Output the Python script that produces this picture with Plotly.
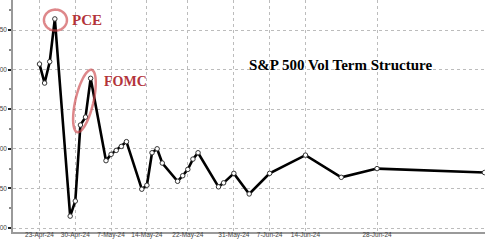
import plotly.graph_objects as go
import numpy as np

# ---- data ----
dates = ["2024-04-23", "2024-04-24", "2024-04-25", "2024-04-26", "2024-04-29",
         "2024-04-30", "2024-05-01", "2024-05-02", "2024-05-03", "2024-05-06",
         "2024-05-07", "2024-05-08", "2024-05-09", "2024-05-10", "2024-05-13",
         "2024-05-14", "2024-05-15", "2024-05-16", "2024-05-17", "2024-05-20",
         "2024-05-21", "2024-05-22", "2024-05-23", "2024-05-24", "2024-05-28",
         "2024-05-29", "2024-05-31", "2024-06-03", "2024-06-07", "2024-06-14",
         "2024-06-21", "2024-06-28", "2024-07-19"]
vol = [15.07, 14.83, 15.10, 15.64, 13.15,
       13.34, 14.30, 14.40, 14.89, 13.85,
       13.93, 13.98, 14.03, 14.09, 13.49,
       13.54, 13.95, 14.00, 13.82, 13.59,
       13.66, 13.74, 13.87, 13.95, 13.52,
       13.57, 13.69, 13.43, 13.69, 13.92,
       13.64, 13.75, 13.70]

tick_dates = ["2024-04-23", "2024-04-30", "2024-05-07", "2024-05-14", "2024-05-22",
              "2024-05-31", "2024-06-07", "2024-06-14", "2024-06-28"]
tick_labels = ["23-Apr-24", "30-Apr-24", "7-May-24", "14-May-24", "22-May-24",
               "31-May-24", "7-Jun-24", "14-Jun-24", "28-Jun-24"]
y_ticks = [13.0, 13.5, 14.0, 14.5, 15.0, 15.5]

title_text = "S&P 500 Vol Term Structure"
pce_label = "PCE"
fomc_label = "FOMC"
pce_idx = 3
fomc_idx = 8

RED = "#b3343a"
RING = "rgba(205,70,75,0.65)"
X_RANGE = ["2024-04-17 19:40", "2024-07-19 02:30"]
TICKFONT = dict(family="Liberation Sans", size=6.5, color="#444")

fig = go.Figure()
fig.add_trace(go.Scatter(
    x=dates, y=vol, mode="lines+markers",
    line=dict(color="black", width=2.6),
    marker=dict(size=4.5, color="white", line=dict(color="#333", width=1)),
    cliponaxis=False, showlegend=False,
))
# invisible companion trace so the label-only x axis is drawn
fig.add_trace(go.Scatter(
    x=dates, y=vol, xaxis="x2", mode="markers",
    marker=dict(opacity=0), hoverinfo="skip", showlegend=False,
))

# ellipse path (pixel units relative to anchor point)
def ellipse_path(cx, cy, a, b, ang_deg, n=60):
    t = np.linspace(0, 2 * np.pi, n)
    th = np.deg2rad(ang_deg)
    xs = cx + a * np.cos(t) * np.cos(th) - b * np.sin(t) * np.sin(th)
    ys = cy + a * np.cos(t) * np.sin(th) + b * np.sin(t) * np.cos(th)
    p = "M %.2f %.2f " % (xs[0], ys[0])
    p += " ".join("L %.2f %.2f" % (x, y) for x, y in zip(xs[1:], ys[1:]))
    return p + " Z"

shapes = [
    dict(type="path", xref="x", yref="y", xsizemode="pixel", ysizemode="pixel",
         xanchor=dates[pce_idx], yanchor=vol[pce_idx],
         path=ellipse_path(0.6, -1.2, 11.5, 10.5, 0),
         line=dict(color=RING, width=2.5)),
    dict(type="path", xref="x", yref="y", xsizemode="pixel", ysizemode="pixel",
         xanchor=dates[fomc_idx], yanchor=vol[fomc_idx],
         path=ellipse_path(-6.2, -22.7, 32, 9, 77),
         line=dict(color=RING, width=2.5)),
]

annotations = [
    dict(x=dates[pce_idx], y=vol[pce_idx], xref="x", yref="y", text="<b>%s</b>" % pce_label,
         showarrow=False, xshift=32, yshift=-1.5,
         font=dict(family="Liberation Serif", size=15, color=RED)),
    dict(x=dates[fomc_idx], y=vol[fomc_idx], xref="x", yref="y", text="<b>%s</b>" % fomc_label,
         showarrow=False, xshift=35, yshift=-3,
         font=dict(family="Liberation Serif", size=14, color=RED)),
    dict(x=(340 - 13) / 472, y=1 - 65 / 232, xref="paper", yref="paper",
         text="<b>%s</b>" % title_text,
         showarrow=False, xanchor="center", yanchor="middle",
         font=dict(family="Liberation Serif", size=15, color="black")),
]

fig.update_layout(
    template="none",
    width=485, height=241,
    margin=dict(l=13, r=0, t=0, b=9),
    paper_bgcolor="white", plot_bgcolor="white",
    shapes=shapes, annotations=annotations,
    showlegend=False,
)
fig.update_layout(
    xaxis=dict(
        type="date", range=X_RANGE,
        tickvals=tick_dates, ticktext=tick_labels, showticklabels=False,
        showgrid=True, gridcolor="#bcbcbc", griddash="dot", gridwidth=1,
        showline=True, linecolor="#9a9a9a", linewidth=1.5,
        ticks="", zeroline=False, automargin=False,
    ),
    xaxis2=dict(
        type="date", range=X_RANGE, overlaying="x", anchor="free", position=0.01,
        side="bottom", tickangle=0,
        tickvals=tick_dates, ticktext=tick_labels, showticklabels=True,
        showgrid=False, showline=False, ticks="", zeroline=False, automargin=False,
        tickfont=TICKFONT,
    ),
    yaxis=dict(
        range=[12.9495, 15.8788], tickvals=y_ticks, tickformat=".2f",
        showgrid=True, gridcolor="#bcbcbc", griddash="dot", gridwidth=1,
        showline=True, linecolor="#9a9a9a", linewidth=1.5,
        ticks="outside", ticklen=3, tickwidth=1.5, tickcolor="#222",
        minor=dict(dtick=0.25, ticks="outside", ticklen=2, tickcolor="#888", showgrid=False),
        zeroline=False, automargin=False,
        tickfont=TICKFONT,
    ),
)

fig.write_html("out.html")
